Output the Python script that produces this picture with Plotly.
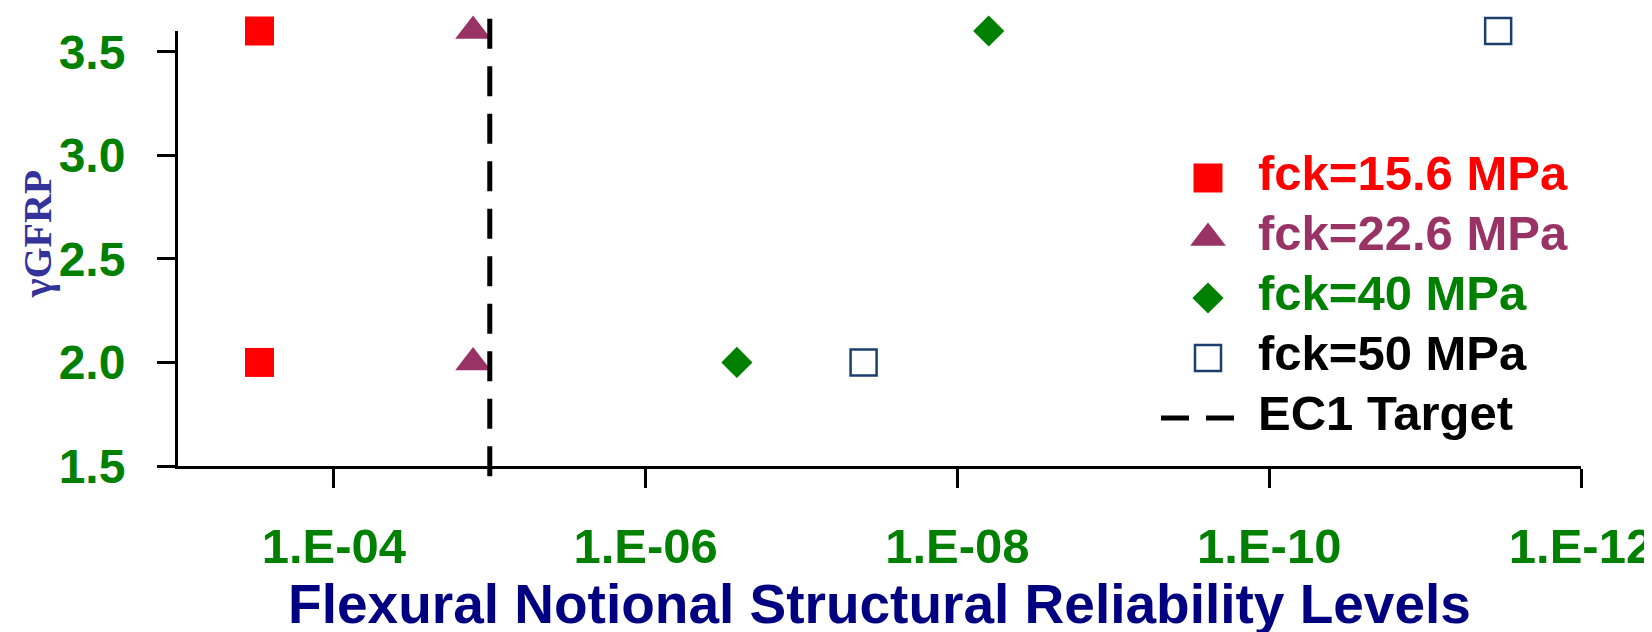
import plotly.graph_objects as go

# ---------------- data ----------------
series_names = ["fck=15.6 MPa", "fck=22.6 MPa", "fck=40 MPa", "fck=50 MPa"]
gamma_gfrp = [2.0, 3.6]
pf_fck_15_6 = [3.0e-4, 3.0e-4]
pf_fck_22_6 = [1.28e-5, 1.28e-5]
pf_fck_40 = [2.6e-7, 6.3e-9]
pf_fck_50 = [4.0e-8, 3.4e-12]
ec1_target_pf = 1.0e-5
ec1_label = "EC1 Target"
x_tick_vals = [1e-4, 1e-6, 1e-8, 1e-10, 1e-12]
x_tick_text = ["1.E-04", "1.E-06", "1.E-08", "1.E-10", "1.E-12"]

# ---------------- styles ----------------
FONT = "Liberation Sans"
GREEN = "#008000"
colors = ["#FF0000", "#993366", "#008000", "#1C3F6E"]
text_colors = ["#FF0000", "#993366", "#008000", "#000000"]
symbols = ["square", "triangle-up", "diamond", "square-open"]
sizes = [29, 31, 24, 26]
line_w = [0, 0, 0, 2.5]
EC1_DASH = "30px,17.5px"

W, H = 1652, 632
L, R, T, B = 170, 79, 23, 174

fig = go.Figure()

xs = [pf_fck_15_6, pf_fck_22_6, pf_fck_40, pf_fck_50]
for i, name in enumerate(series_names):
    fig.add_trace(go.Scatter(
        x=xs[i], y=gamma_gfrp, mode="markers", name=name, showlegend=False,
        cliponaxis=False,
        marker=dict(symbol=symbols[i], size=sizes[i], color=colors[i],
                    line=dict(width=line_w[i], color=colors[i])),
    ))

# EC1 target: vertical dashed line at the target probability (x in data units)
fig.add_shape(
    type="line", xref="x", yref="paper",
    x0=ec1_target_pf, x1=ec1_target_pf, y0=1.028, y1=-0.026,
    line=dict(color="black", width=5, dash=EC1_DASH), layer="above",
)

# ---------------- custom legend on a pixel-scaled overlay axis ----------------
LEG_FONT = 49
leg_marker_x = 1200
leg_text_x = 1250
leg_rows = [170, 230, 290, 350, 410]
for i, name in enumerate(series_names):
    fig.add_trace(go.Scatter(
        x=[leg_marker_x], y=[leg_rows[i]], xaxis="x2", yaxis="y2",
        mode="markers", showlegend=False, cliponaxis=False, hoverinfo="skip",
        marker=dict(symbol=symbols[i], size=sizes[i], color=colors[i],
                    line=dict(width=line_w[i], color=colors[i])),
    ))
    fig.add_trace(go.Scatter(
        x=[leg_text_x], y=[leg_rows[i]], xaxis="x2", yaxis="y2",
        mode="text", text=[name], textposition="middle right",
        showlegend=False, cliponaxis=False, hoverinfo="skip",
        textfont=dict(family=FONT, size=LEG_FONT, color=text_colors[i], weight="bold"),
    ))
fig.add_trace(go.Scatter(
    x=[1153, 1226], y=[leg_rows[4], leg_rows[4]], xaxis="x2", yaxis="y2",
    mode="lines", showlegend=False, cliponaxis=False, hoverinfo="skip",
    line=dict(color="black", width=5, dash="28px,17px"),
))
fig.add_trace(go.Scatter(
    x=[leg_text_x], y=[leg_rows[4]], xaxis="x2", yaxis="y2",
    mode="text", text=[ec1_label], textposition="middle right",
    showlegend=False, cliponaxis=False, hoverinfo="skip",
    textfont=dict(family=FONT, size=LEG_FONT, color="black", weight="bold"),
))

fig.update_layout(
    width=W, height=H,
    margin=dict(l=L, r=R, t=T, b=B, pad=0, autoexpand=False),
    paper_bgcolor="white", plot_bgcolor="white",
    showlegend=False,
    xaxis=dict(
        type="log", range=[-3, -12], automargin=False,
        tickvals=x_tick_vals, ticktext=x_tick_text,
        ticks="outside", ticklen=19, tickwidth=3, tickcolor="black",
        showline=True, linewidth=3, linecolor="black",
        showgrid=False, zeroline=False,
        ticklabelstandoff=16,
        tickfont=dict(family=FONT, size=49, color=GREEN, weight="bold"),
        title=dict(text="Flexural Notional Structural Reliability Levels",
                   font=dict(family=FONT, size=55, color="#000080", weight="bold"),
                   standoff=11),
    ),
    yaxis=dict(
        range=[1.5, 3.6], dtick=0.5, tick0=1.5, tickformat=".1f", automargin=False,
        ticks="outside", ticklen=18, tickwidth=3, tickcolor="black",
        showline=True, linewidth=3, linecolor="black",
        showgrid=False, zeroline=False,
        ticklabelstandoff=22,
        tickfont=dict(family=FONT, size=48, color=GREEN, weight="bold"),
    ),
    xaxis2=dict(overlaying="x", range=[L, W - R], visible=False, anchor="y2"),
    yaxis2=dict(overlaying="y", range=[H - B, T], visible=False, anchor="x2"),
    annotations=[dict(
        text="γGFRP", textangle=-90, showarrow=False,
        xref="paper", yref="paper", x=-0.1005, y=0.535,
        xanchor="center", yanchor="middle",
        font=dict(family="Liberation Serif", size=40, color="#333399", weight="bold"),
    )],
)

fig.write_html("out.html")
